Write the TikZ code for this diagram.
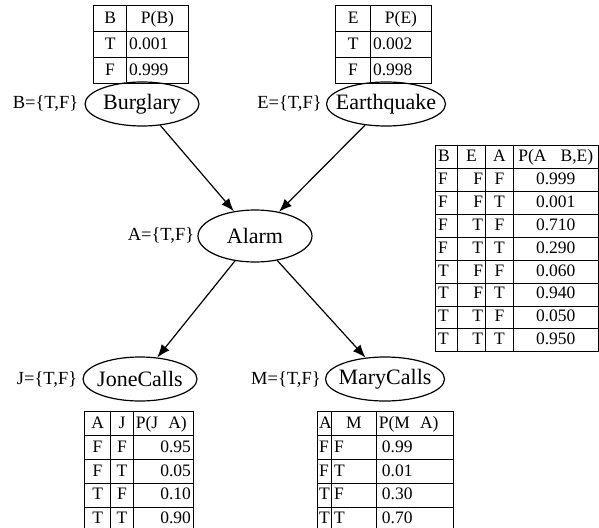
\documentclass[tikz,border=0pt]{standalone}
\usepackage{fontspec}
\setmainfont{Liberation Serif}
\usepackage{array}
\usepackage{tikz}
\usetikzlibrary{arrows.meta,shapes.geometric,positioning}
\newcolumntype{C}[1]{>{\centering\arraybackslash}p{#1}}
\newcolumntype{L}[1]{>{\raggedright\arraybackslash}p{#1}}
\newcolumntype{R}[1]{>{\raggedleft\arraybackslash}p{#1}}
\setlength{\tabcolsep}{2pt}
\setlength{\arrayrulewidth}{0.9pt}

\begin{document}
\begin{tikzpicture}[x=1pt,y=-1pt,>={Latex[length=13pt,width=10pt]},
	var/.style={draw,ellipse,line width=1.2pt,minimum width=114pt,minimum height=44pt,inner xsep=-14pt,inner ysep=0pt,font=\fontsize{22}{26}\selectfont},
	dom/.style={font=\fontsize{18.5}{22}\selectfont,inner sep=0pt},
	cpt/.style={anchor=north west,inner sep=0pt,font=\fontsize{17.5}{#1}\selectfont},
	cpt/.default=23]
			\useasboundingbox (0,0) rectangle (599,527);
			\node[var] (burglary) at (142,104) {Burglary};
			\node[var,minimum width=119pt] (earthquake) at (386,104) {Earthquake};
			\node[var,minimum height=52pt] (alarm) at (255,236) {Alarm};
			\node[var] (jonecalls) at (140,379) {JoneCalls};
			\node[var,minimum width=119pt] (marycalls) at (385,379) {MaryCalls};
			\node[dom] [left=6pt of burglary] (dom_b) {B=\{T,F\}};
			\node[dom] [left=4pt of earthquake] (dom_e) {E=\{T,F\}};
			\node[dom] [left=3pt of alarm] (dom_a) {A=\{T,F\}};
			\node[dom] [left=5pt of jonecalls] (dom_j) {J=\{T,F\}};
			\node[dom] [left=4pt of marycalls] (dom_m) {M=\{T,F\}};
			\node[cpt=25] (cpt_b) at (93,5) {\begin{tabular}{|C{28pt}|L{57pt}|}\hline
				B & \multicolumn{1}{c|}{P(B)}\\\hline
				T & 0.001\\\hline
				F & 0.999\\\hline
			\end{tabular}};
			\node[cpt=25] (cpt_e) at (335,5) {\begin{tabular}{|C{30pt}|L{56pt}|}\hline
				E & \multicolumn{1}{c|}{P(E)}\\\hline
				T & 0.002\\\hline
				F & 0.998\\\hline
			\end{tabular}};
			\node[cpt=22] (cpt_a) at (435,145) {\begin{tabular}{|L{17pt}|R{23pt}|C{23pt}|C{80pt}|}\hline
				B & \multicolumn{1}{c|}{E} & A & P(A\hspace{14pt}B,E)\\\hline
				F & F & F & 0.999\\\hline
				F & F & T & 0.001\\\hline
				F & T & F & 0.710\\\hline
				F & T & T & 0.290\\\hline
				T & F & F & 0.060\\\hline
				T & F & T & 0.940\\\hline
				T & T & F & 0.050\\\hline
				T & T & T & 0.950\\\hline
			\end{tabular}};
			\node[cpt] (cpt_j) at (84,411) {\begin{tabular}{|C{21pt}|C{18pt}|R{55pt}|}\hline
				A & J & \multicolumn{1}{l|}{P(J\hspace{10pt}A)}\\\hline
				F & F & 0.95\\\hline
				F & T & 0.05\\\hline
				T & F & 0.10\\\hline
				T & T & 0.90\\\hline
			\end{tabular}};
			\node[cpt] (cpt_m) at (317,411) {\begin{tabular}{|@{\hspace{1pt}}L{10pt}|L{40pt}|L{72pt}|}\hline
				A & \multicolumn{1}{c|}{M} & P(M\hspace{10pt}A)\\\hline
				F & F & \hspace{3pt}0.99\\\hline
				F & T & \hspace{3pt}0.01\\\hline
				T & F & \hspace{3pt}0.30\\\hline
				T & T & \hspace{3pt}0.70\\\hline
			\end{tabular}};
			\path[->,line width=1.2pt]
				(burglary) edge (alarm)
				(earthquake) edge (alarm)
				(alarm) edge (jonecalls)
				(alarm) edge (marycalls);
		\end{tikzpicture}
\end{document}
